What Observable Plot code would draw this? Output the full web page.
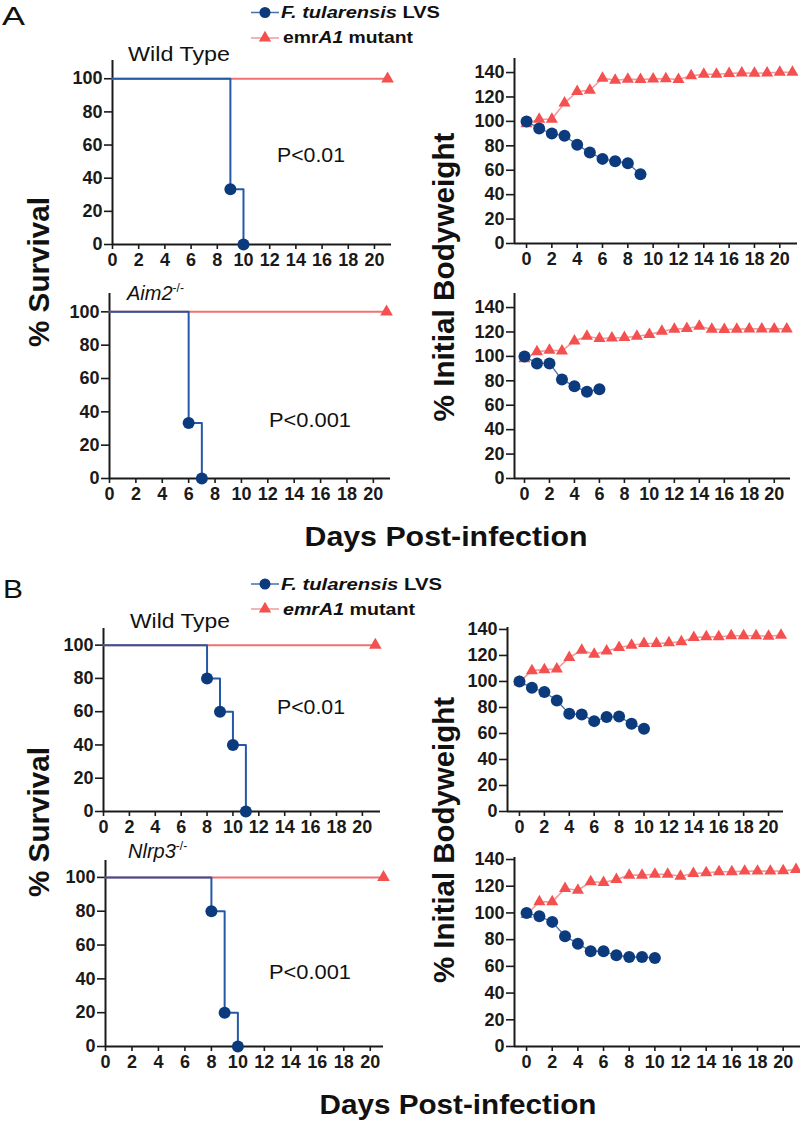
<!DOCTYPE html>
<html><head><meta charset="utf-8">
<script src="https://cdn.jsdelivr.net/npm/d3@7"></script>
<script src="https://cdn.jsdelivr.net/npm/@observablehq/plot@0.6"></script>
<style>
body{margin:0;background:#fff;}
#fig{position:relative;width:800px;height:1123px;overflow:hidden;font-family:"Liberation Sans",Arial,sans-serif;background:#fff;}
#fig svg{position:absolute;}
</style></head><body><div id="fig"></div>
<script>
// ---------------- DATA ----------------
const dayTicks = [0, 2, 4, 6, 8, 10, 12, 14, 16, 18, 20];
const survTicks = [0, 20, 40, 60, 80, 100];
const bwTicks = [0, 20, 40, 60, 80, 100, 120, 140];
const bwDays = [0, 1, 2, 3, 4, 5, 6, 7, 8, 9, 10, 11, 12, 13, 14, 15, 16, 17, 18, 19, 20, 21];

// survival (Kaplan-Meier steps)
const survMutDays = [0, 21];
const survMutVals = [100, 100];
const survA_WT_days = [0, 9, 10];
const survA_WT_lvs = [100, 33.3, 0];
const survA_Aim2_days = [0, 6, 7];
const survA_Aim2_lvs = [100, 33.3, 0];
const survB_WT_days = [0, 8, 9, 10, 11];
const survB_WT_lvs = [100, 80, 60, 40, 0];
const survB_Nlrp3_days = [0, 8, 9, 10];
const survB_Nlrp3_lvs = [100, 80, 20, 0];

// % initial bodyweight (LVS from day 0, mutant days 0..21)
const bwA_WT_lvs = [100, 94.2, 90, 88.2, 80.8, 74.5, 69.3, 67.4, 65.8, 56.8];
const bwA_WT_mut = [98, 101.8, 101.8, 115, 124.5, 125.5, 135.4, 133.7, 134.6, 134.3, 134.8, 135, 134.3, 137.3, 138.6, 138.6, 139.2, 139.7, 139.4, 139.7, 140.3, 140.3];
const bwA_Aim2_lvs = [100, 94.2, 94.2, 81, 75.6, 71, 73.1];
const bwA_Aim2_mut = [98, 103.7, 105, 104.5, 112.7, 116.5, 114.6, 115, 115.4, 116.5, 117.9, 120.6, 122.3, 122.8, 124.7, 122.3, 122, 122.3, 122.5, 122.5, 122.5, 122.5];
const bwB_WT_lvs = [100, 95.2, 91.9, 85.4, 75.1, 74.6, 69.5, 72.6, 73.1, 67.4, 63.6];
const bwB_WT_mut = [99.6, 108.3, 109.1, 109.6, 118.4, 124, 120.9, 123.5, 126.1, 127.9, 129.2, 129.2, 129.7, 130.5, 133.8, 134.3, 134.3, 135.1, 135.1, 135.1, 134.8, 135.6];
const bwB_Nlrp3_lvs = [100, 97.5, 93.3, 82.5, 77, 71.3, 71.3, 68.3, 67, 67, 66.3];
const bwB_Nlrp3_mut = [98.8, 108.3, 108.3, 118.3, 117, 123.3, 122.8, 125, 128.3, 128.3, 129, 129, 127.5, 129.5, 130, 130.8, 130.8, 131.3, 131.3, 131.3, 131.5, 132.5];

// ---------------- STYLE ----------------
const NAVY = "#0c3b7d", BLUE_LINE = "#2559a5", BLUE_THIN = "#4b6fa5";
const RED = "#f4504f", RED_LINE = "#f27070", PINK_THIN = "#f29a9a";
const AXIS = "#1a1a1a";
const fig = document.getElementById("fig");

function rows(days, vals) { return vals.map((v, i) => ({day: days[i], v})); }

function panel(area, xDomain, yDomain, yTicks, marks) {
  const ml = 60, mr = 8, mt = 6, mb = 34;
  const w = (area.x1 - area.x0) + ml + mr, h = (area.y1 - area.y0) + mt + mb;
  const svg = Plot.plot({
    width: w, height: h, marginLeft: ml, marginRight: mr, marginTop: mt, marginBottom: mb,
    x: {domain: xDomain}, y: {domain: yDomain},
    style: {background: "transparent", overflow: "visible", fontFamily: "Liberation Sans, Arial, sans-serif"},
    marks: [
      Plot.axisY({ticks: yTicks, tickSize: 8, tickPadding: 2, tickFormat: d => d, label: null,
        fontSize: 18, fontWeight: "bold", color: AXIS, strokeWidth: 1.6}),
      Plot.axisX({ticks: dayTicks, tickSize: 5, tickPadding: 4, tickFormat: d => d, label: null,
        fontSize: 18, fontWeight: "bold", fontFamily: "Liberation Sans Narrow, Arial Narrow, sans-serif", color: AXIS, strokeWidth: 1.6}),
      Plot.ruleX([xDomain[0]], {stroke: AXIS, strokeWidth: 2}),
      Plot.ruleY([yDomain[0]], {stroke: AXIS, strokeWidth: 2}),
      ...marks
    ]
  });
  svg.style.left = (area.x0 - ml) + "px";
  svg.style.top = (area.y0 - mt) + "px";
  fig.append(svg);
}

function survMarks(days, lvs) {
  const mut = rows(survMutDays, survMutVals);
  const l = rows(days, lvs);
  return [
    Plot.line(mut, {x: "day", y: "v", stroke: RED_LINE, strokeWidth: 2}),
    Plot.dot(mut.slice(-1), {x: "day", y: "v", symbol: "triangle", r: 4.7, fill: RED}),
    Plot.line(l, {x: "day", y: "v", curve: "step-after", stroke: BLUE_LINE, strokeWidth: 2}),
    Plot.dot(l.filter(d => d.day > 0), {x: "day", y: "v", r: 6, fill: NAVY})
  ];
}
function bwMarks(lvs, mut) {
  const m = rows(bwDays, mut), l = rows(bwDays, lvs);
  return [
    Plot.line(m, {x: "day", y: "v", stroke: PINK_THIN, strokeWidth: 1.6}),
    Plot.dot(m, {x: "day", y: "v", symbol: "triangle", r: 4.5, fill: RED}),
    Plot.line(l, {x: "day", y: "v", stroke: BLUE_THIN, strokeWidth: 1.3}),
    Plot.dot(l, {x: "day", y: "v", r: 6, fill: NAVY})
  ];
}

panel({x0: 112, x1: 391, y0: 60, y1: 244}, [0, 21.3], [0, 111], survTicks, survMarks(survA_WT_days, survA_WT_lvs));
panel({x0: 109, x1: 390, y0: 293, y1: 478}, [0, 21.3], [0, 111], survTicks, survMarks(survA_Aim2_days, survA_Aim2_lvs));
panel({x0: 514, x1: 797, y0: 58, y1: 243}, [-0.95, 21.4], [0, 151.5], bwTicks, bwMarks(bwA_WT_lvs, bwA_WT_mut));
panel({x0: 514, x1: 790, y0: 293, y1: 478}, [-0.8, 21.3], [0, 151.5], bwTicks, bwMarks(bwA_Aim2_lvs, bwA_Aim2_mut));
panel({x0: 103, x1: 380, y0: 628, y1: 811}, [0, 21.4], [0, 110], survTicks, survMarks(survB_WT_days, survB_WT_lvs));
panel({x0: 105, x1: 383, y0: 860, y1: 1046}, [0, 21], [0, 110], survTicks, survMarks(survB_Nlrp3_days, survB_Nlrp3_lvs));
panel({x0: 507, x1: 783, y0: 627, y1: 811}, [-0.96, 21.2], [0, 141.5], bwTicks, bwMarks(bwB_WT_lvs, bwB_WT_mut));
panel({x0: 514, x1: 800, y0: 857, y1: 1046}, [-0.94, 21.35], [0, 141.5], bwTicks, bwMarks(bwB_Nlrp3_lvs, bwB_Nlrp3_mut));

// ---------------- ANNOTATIONS / LEGEND ----------------
const ov = d3.select(fig).append("svg").attr("width", 800).attr("height", 1123)
  .style("left", "0px").style("top", "0px").style("pointer-events", "none")
  .attr("font-family", "Liberation Sans, Arial, sans-serif").attr("fill", "#111");

function text(x, y, parts, o = {}) {
  const t = ov.append("text").attr("x", x).attr("y", y)
    .attr("font-size", o.size || 20).attr("font-weight", o.weight || "normal")
    .attr("text-anchor", o.anchor || "start");
  if (o.central) t.attr("dominant-baseline", "central");
  if (o.rotate) t.attr("transform", `rotate(-90 ${x} ${y})`);
  if (o.len) t.attr("textLength", o.len).attr("lengthAdjust", "spacingAndGlyphs");
  (Array.isArray(parts) ? parts : [[parts]]).forEach(p => {
    const s = t.append("tspan").text(p[0]);
    if (p[1] === "i") s.attr("font-style", "italic");
    if (p[1] === "sup") s.attr("font-size", (o.size || 20) * 0.6).attr("dy", -8);
  });
  return t;
}

// panel letters
text(2, 25, "A", {size: 25, len: 23});
text(3, 598, "B", {size: 25, len: 20});

// legends
function legend(y1, y2, tb1, tb2, italicEmr, len1, len2) {
  ov.append("line").attr("x1", 251).attr("x2", 279).attr("y1", y1).attr("y2", y1).attr("stroke", BLUE_THIN).attr("stroke-width", 1.5);
  ov.append("circle").attr("cx", 265).attr("cy", y1).attr("r", 5.5).attr("fill", NAVY);
  ov.append("line").attr("x1", 251).attr("x2", 279).attr("y1", y2).attr("y2", y2).attr("stroke", PINK_THIN).attr("stroke-width", 1.5);
  ov.append("path").attr("transform", `translate(265,${y2})`).attr("d", d3.symbol(d3.symbolTriangle, Math.PI * 4.6 * 4.6)()).attr("fill", RED);
  text(281, tb1, [["F. tularensis", "i"], [" LVS"]], {size: 16, weight: "bold", len: len1});
  text(283, tb2, italicEmr ? [["emrA1", "i"], [" mutant"]] : [["emr"], ["A1", "i"], [" mutant"]], {size: 16, weight: "bold", len: len2});
}
legend(12.5, 38, 18, 43, false, 159, 130);
legend(584, 609, 590, 615, true, 161, 132);

// panel subtitles
text(128, 61, "Wild Type", {size: 20, len: 102});
text(127, 300, [["Aim2", "i"], ["-/-", "sup"]], {size: 20});
text(130, 628, "Wild Type", {size: 20, len: 100});
text(128, 858, [["Nlrp3", "i"], ["-/-", "sup"]], {size: 20});

// p-values
text(277, 162, "P<0.01", {size: 21, len: 68});
text(269, 427, "P<0.001", {size: 21, len: 82});
text(277, 714, "P<0.01", {size: 21, len: 68});
text(269, 979, "P<0.001", {size: 21, len: 82});

// axis titles
text(39, 272, "% Survival", {size: 29, weight: "bold", anchor: "middle", central: true, rotate: true, len: 150});
text(39, 822, "% Survival", {size: 29, weight: "bold", anchor: "middle", central: true, rotate: true, len: 150});
text(444, 277, "% Initial Bodyweight", {size: 29, weight: "bold", anchor: "middle", central: true, rotate: true, len: 289});
text(444, 840, "% Initial Bodyweight", {size: 29, weight: "bold", anchor: "middle", central: true, rotate: true, len: 286});
text(446, 537, "Days Post-infection", {size: 27, weight: "bold", anchor: "middle", central: true, len: 283});
text(458, 1105, "Days Post-infection", {size: 27, weight: "bold", anchor: "middle", central: true, len: 277});
</script></body></html>
